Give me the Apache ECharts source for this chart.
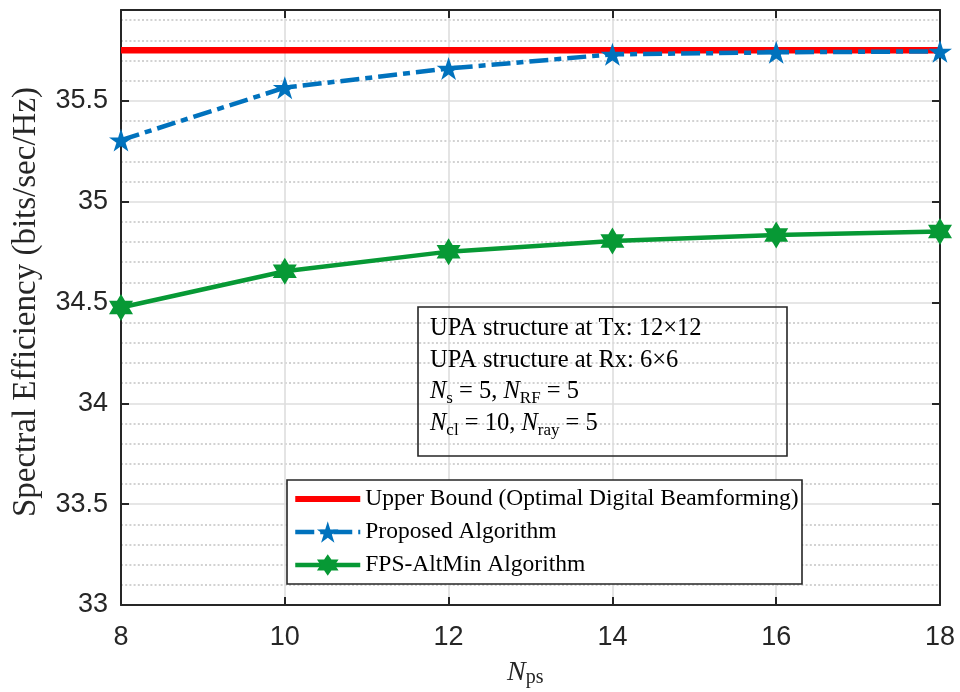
<!DOCTYPE html>
<html>
<head>
<meta charset="utf-8">
<script src="https://cdn.jsdelivr.net/npm/echarts@6/dist/echarts.min.js"></script>
<style>
html,body{margin:0;padding:0;background:#fff;}
#chart{width:960px;height:692px;}
</style>
</head>
<body>
<div id="chart"></div>
<script>
// ---- data ----
const nps = [8, 10, 12, 14, 16, 18];
const upperBound = [35.75, 35.75, 35.75, 35.75, 35.75, 35.75];
const proposed = [35.305, 35.565, 35.66, 35.73, 35.74, 35.745];
const fpsAltMin = [34.475, 34.655, 34.752, 34.805, 34.835, 34.852];
const seriesNames = ['Upper Bound (Optimal Digital Beamforming)', 'Proposed Algorithm', 'FPS-AltMin Algorithm'];
const xTicks = [8, 10, 12, 14, 16, 18];
const yTicks = [33, 33.5, 34, 34.5, 35, 35.5];

const SERIF = '"Liberation Serif", "DejaVu Serif", serif';
const SANS = '"Liberation Sans", Arial, sans-serif';
const AX = '#262626';

function starPath(n, rOut, rIn) {
  let d = '';
  for (let i = 0; i < 2 * n; i++) {
    const r = i % 2 === 0 ? rOut : rIn;
    const a = -Math.PI / 2 + i * Math.PI / n;
    d += (i === 0 ? 'M' : 'L') + (r * Math.cos(a)).toFixed(4) + ',' + (r * Math.sin(a)).toFixed(4);
  }
  return 'path://' + d + 'Z';
}
const pentagram = starPath(5, 1, 0.382);
const hexagram = starPath(6, 1, 0.5774);

const pairs = (ys) => nps.map((x, i) => [x, ys[i]]);

const chart = echarts.init(document.getElementById('chart'), null, {renderer: 'canvas'});
const grid = {left: 121, right: 20, top: 10, bottom: 87};

const option = {
  backgroundColor: '#fff',
  animation: false,
  grid: grid,
  xAxis: [{
    type: 'value', min: 8, max: 18, interval: 2,
    axisLine: {show: true, onZero: false, lineStyle: {color: AX, width: 2}},
    axisTick: {show: true, inside: true, length: 8, lineStyle: {color: AX, width: 2}},
    axisLabel: {fontFamily: SANS, fontSize: 27, color: AX, margin: 19,
      formatter: (v) => xTicks.includes(v) ? String(v) : ''},
    splitLine: {show: true, lineStyle: {color: '#dedede', width: 1.6}},
    minorTick: {show: false}, minorSplitLine: {show: false}
  }, {
    type: 'value', min: 8, max: 18, interval: 2, position: 'top',
    axisLine: {show: true, onZero: false, lineStyle: {color: AX, width: 2}},
    axisTick: {show: true, inside: true, length: 8, lineStyle: {color: AX, width: 2}},
    axisLabel: {show: false}, splitLine: {show: false}
  }],
  yAxis: [{
    type: 'value', min: 33, max: 35.95, interval: 0.5,
    axisLine: {show: true, onZero: false, lineStyle: {color: AX, width: 2}},
    axisTick: {show: true, inside: true, length: 8, lineStyle: {color: AX, width: 2}},
    axisLabel: {fontFamily: SANS, fontSize: 27, color: AX, margin: 13,
      showMaxLabel: false,
      formatter: (v) => yTicks.some(t => Math.abs(t - v) < 1e-6) ? String(v) : ''},
    splitLine: {show: true, lineStyle: {color: '#dedede', width: 1.6}},
    minorTick: {show: false, splitNumber: 5},
    minorSplitLine: {show: true, lineStyle: {color: '#c4c4c4', width: 1.6, type: [2, 2.2]}}
  }, {
    type: 'value', min: 33, max: 35.95, interval: 0.5, position: 'right',
    axisLine: {show: true, onZero: false, lineStyle: {color: AX, width: 2}},
    axisTick: {show: true, inside: true, length: 8, lineStyle: {color: AX, width: 2}},
    axisLabel: {show: false}, splitLine: {show: false}
  }],
  legend: {
    orient: 'vertical', left: 288, top: 480.5, z: 10, padding: 5,
    itemWidth: 65, itemHeight: 27, itemGap: 6,
    textStyle: {fontFamily: SERIF, fontSize: 23.5, color: '#000', lineHeight: 27},
    lineStyle: {width: 'inherit', type: 'inherit'},
    data: [
      {name: seriesNames[0], icon: 'path://M0,0M65,27M0,10.5H65V16.5H0Z'},
      {name: seriesNames[1]},
      {name: seriesNames[2]}
    ]
  },
  series: [{
    name: seriesNames[0], type: 'line', data: pairs(upperBound),
    symbol: 'none', lineStyle: {color: '#ff0000', width: 6.5}, itemStyle: {color: '#ff0000'}, z: 3
  }, {
    name: seriesNames[1], type: 'line', data: pairs(proposed),
    symbol: pentagram, symbolSize: [24, 23],
    lineStyle: {color: '#0072BD', width: 4.5, type: [19, 6, 7, 6], cap: 'butt'},
    itemStyle: {color: '#0072BD', borderWidth: 0}, z: 4
  }, {
    name: seriesNames[2], type: 'line', data: pairs(fpsAltMin),
    symbol: hexagram, symbolSize: [24, 27],
    lineStyle: {color: '#079935', width: 4.5},
    itemStyle: {color: '#079935', borderWidth: 0}, z: 5
  }],
  graphic: [
    {type: 'rect', z: 9, shape: {x: 287, y: 480, width: 515, height: 104},
      style: {fill: '#fff', stroke: AX, lineWidth: 1.6}},
    {type: 'rect', z: 9, shape: {x: 418, y: 307, width: 369, height: 149},
      style: {fill: 'none', stroke: AX, lineWidth: 1.6}},
    {type: 'text', z: 10, left: 430, top: 313,
      style: {
        text: 'UPA structure at Tx: 12×12\nUPA structure at Rx: 6×6\n{it|N}{sub|s}{n| = 5, }{it|N}{sub|RF}{n| = 5}\n{it|N}{sub|cl}{n| = 10, }{it|N}{sub|ray}{n| = 5}',
        fontFamily: SERIF, fontSize: 24.5, fill: '#000', lineHeight: 31.5,
        rich: {
          it: {fontFamily: SERIF, fontSize: 24.5, fontStyle: 'italic', lineHeight: 31.5},
          n: {fontFamily: SERIF, fontSize: 24.5, lineHeight: 31.5},
          sub: {fontFamily: SERIF, fontSize: 17, lineHeight: 14, verticalAlign: 'bottom'}
        }
      }},
    {type: 'text', z: 10, x: 26, y: 302, rotation: Math.PI / 2,
      style: {text: 'Spectral Efficiency (bits/sec/Hz)', fontFamily: SERIF, fontSize: 33,
        fill: AX, align: 'center', verticalAlign: 'middle'}},
    {type: 'text', z: 10, left: 507, top: 659,
      style: {
        text: '{it|N}{sub|ps}', fill: AX,
        rich: {
          it: {fontFamily: SERIF, fontSize: 28, fontStyle: 'italic', lineHeight: 30},
          sub: {fontFamily: SERIF, fontSize: 20, lineHeight: 16, verticalAlign: 'bottom'}
        }
      }}
  ]
};
chart.setOption(option);
</script>
</body>
</html>
